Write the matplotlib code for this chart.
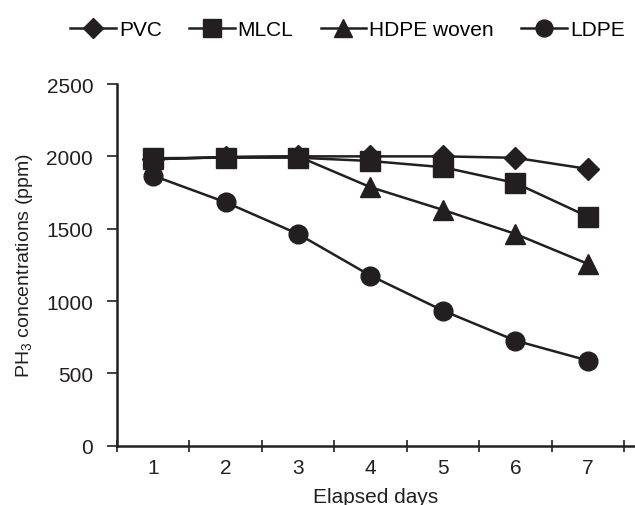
import matplotlib
matplotlib.use("Agg")
import matplotlib.pyplot as plt

plt.rcParams['font.family'] = ['Liberation Sans', 'DejaVu Sans']
plt.rcParams['mathtext.fontset'] = 'custom'
plt.rcParams['mathtext.rm'] = 'Liberation Sans'
plt.rcParams['mathtext.it'] = 'Liberation Sans'

days = [1, 2, 3, 4, 5, 6, 7]
pvc = [1980, 1995, 2000, 2000, 2000, 1990, 1913]
mlcl = [1987, 1991, 1991, 1968, 1925, 1816, 1584]
hdpe = [1980, 1995, 2000, 1787, 1630, 1464, 1257]
ldpe = [1867, 1683, 1464, 1176, 934, 727, 589]

col = '#231f20'

fig = plt.figure(figsize=(6.35, 5.06), dpi=100)
ax = fig.add_axes([0.184, 0.117, 0.816, 0.715])

ax.plot(days, pvc, marker='D', ms=11, color=col, lw=1.8, label='PVC', zorder=3)
ax.plot(days, mlcl, marker='s', ms=14, color=col, lw=1.8, label='MLCL', zorder=4)
ax.plot(days, hdpe, marker='^', ms=15, color=col, lw=1.8, label='HDPE woven', zorder=3)
ax.plot(days, ldpe, marker='o', ms=13.5, color=col, lw=1.8, label='LDPE', zorder=3)

ax.set_xlim(0.5, 7.65)
ax.set_ylim(0, 2500)
ax.set_yticks([0, 500, 1000, 1500, 2000, 2500])
ax.set_xticks(days)
ax.set_xticks([0.5 + i for i in range(8)], minor=True)
ax.tick_params(axis='x', which='major', length=0, labelsize=15, pad=9, colors=col)
ax.tick_params(axis='x', which='minor', direction='inout', length=9, width=1.2, color=col)
ax.tick_params(axis='y', direction='out', length=7, width=1.2, labelsize=15, pad=10, colors=col)

for s in ['top', 'right']:
    ax.spines[s].set_visible(False)
for s in ['left', 'bottom']:
    ax.spines[s].set_linewidth(1.8)
    ax.spines[s].set_color(col)

ax.set_xlabel('Elapsed days', fontsize=15, color=col, labelpad=7)
ax.set_ylabel(r'PH$_3$ concentrations (ppm)', fontsize=14, color=col, labelpad=8)

fig.legend(loc='center', bbox_to_anchor=(0.547, 0.94), ncol=4, frameon=False,
           fontsize=15, handlelength=2.2, columnspacing=1.3, handletextpad=0.15,
           markerscale=0.9)

fig.savefig('out.png', dpi=100)
